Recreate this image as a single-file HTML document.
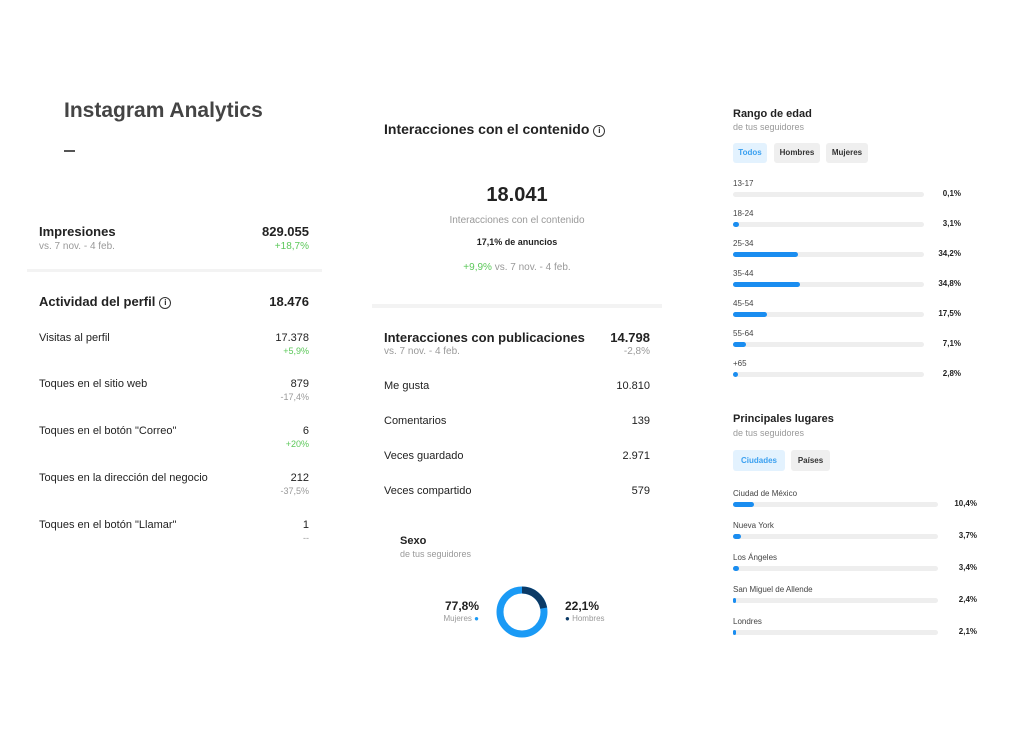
<!DOCTYPE html><html><head><meta charset="utf-8"><style>
body{margin:0;width:1024px;height:754px;background:#fff;position:relative;font-family:"Liberation Sans",sans-serif;color:#222;overflow:hidden}
.a{position:absolute;white-space:nowrap}
.r{position:absolute;white-space:nowrap;text-align:right}
.g{color:#999}.gr{color:#5cc85a}
.t{position:absolute;height:5px;background:#eee;border-radius:3px}
.f{position:absolute;left:0;top:0;height:5px;background:#1a8df0;border-radius:3px}
.p{position:absolute;font-size:8px;font-weight:bold;background:#efefef;border-radius:3px;text-align:center;color:#333}
.i{display:inline-block;width:10px;height:10px;border:1.3px solid #333;border-radius:50%;font-size:8px;line-height:10px;text-align:center;font-weight:bold;vertical-align:1px;margin-left:4px}
</style></head><body>
<div class="a" style="left:64px;top:99px;font-size:21px;font-weight:bold;color:#444">Instagram Analytics</div>
<div class="a" style="left:64px;top:150px;width:11px;height:1.5px;background:#555"></div>

<div class="a" style="left:39px;top:224px;font-size:13px;font-weight:bold">Impresiones</div>
<div class="a g" style="left:39px;top:241px;font-size:10px">vs. 7 nov. - 4 feb.</div>
<div class="r" style="right:715px;top:224px;font-size:13px;font-weight:bold">829.055</div>
<div class="r gr" style="right:715px;top:241px;font-size:10px">+18,7%</div>
<div class="a" style="left:27px;top:269px;width:295px;height:3px;background:#f3f3f3"></div>
<div class="a" style="left:39px;top:294px;font-size:13px;font-weight:bold">Actividad del perfil<span class="i">i</span></div>
<div class="r" style="right:715px;top:294px;font-size:13px;font-weight:bold">18.476</div>

<div class="a" style="left:39px;top:332px;font-size:11px">Visitas al perfil</div>
<div class="r" style="right:715px;top:332px;font-size:11px">17.378</div>
<div class="r gr" style="right:715px;top:346px;font-size:9px">+5,9%</div>
<div class="a" style="left:39px;top:378px;font-size:11px">Toques en el sitio web</div>
<div class="r" style="right:715px;top:378px;font-size:11px">879</div>
<div class="r g" style="right:715px;top:392px;font-size:9px">-17,4%</div>
<div class="a" style="left:39px;top:425px;font-size:11px">Toques en el botón "Correo"</div>
<div class="r" style="right:715px;top:425px;font-size:11px">6</div>
<div class="r gr" style="right:715px;top:439px;font-size:9px">+20%</div>
<div class="a" style="left:39px;top:472px;font-size:11px">Toques en la dirección del negocio</div>
<div class="r" style="right:715px;top:472px;font-size:11px">212</div>
<div class="r g" style="right:715px;top:486px;font-size:9px">-37,5%</div>
<div class="a" style="left:39px;top:519px;font-size:11px">Toques en el botón "Llamar"</div>
<div class="r" style="right:715px;top:519px;font-size:11px">1</div>
<div class="r g" style="right:715px;top:533px;font-size:9px">--</div>

<div class="a" style="left:384px;top:121px;font-size:14px;font-weight:bold">Interacciones con el contenido<span class="i">i</span></div>
<div class="a" style="left:372px;width:290px;text-align:center;top:184px;font-size:20px;font-weight:bold">18.041</div>
<div class="a g" style="left:372px;width:290px;text-align:center;top:215px;font-size:10px">Interacciones con el contenido</div>
<div class="a" style="left:372px;width:290px;text-align:center;top:237px;font-size:9px;font-weight:bold">17,1% de anuncios</div>
<div class="a g" style="left:372px;width:290px;text-align:center;top:262px;font-size:10px"><span class="gr">+9,9%</span> vs. 7 nov. - 4 feb.</div>
<div class="a" style="left:372px;top:304px;width:290px;height:4px;background:#f3f3f3"></div>
<div class="a" style="left:384px;top:330px;font-size:13px;font-weight:bold">Interacciones con publicaciones</div>
<div class="a g" style="left:384px;top:346px;font-size:10px">vs. 7 nov. - 4 feb.</div>
<div class="r" style="right:374px;top:330px;font-size:13px;font-weight:bold">14.798</div>
<div class="r g" style="right:374px;top:346px;font-size:10px">-2,8%</div>
<div class="a" style="left:384px;top:380px;font-size:11px">Me gusta</div><div class="r" style="right:374px;top:380px;font-size:11px">10.810</div>
<div class="a" style="left:384px;top:415px;font-size:11px">Comentarios</div><div class="r" style="right:374px;top:415px;font-size:11px">139</div>
<div class="a" style="left:384px;top:450px;font-size:11px">Veces guardado</div><div class="r" style="right:374px;top:450px;font-size:11px">2.971</div>
<div class="a" style="left:384px;top:485px;font-size:11px">Veces compartido</div><div class="r" style="right:374px;top:485px;font-size:11px">579</div>

<div class="a" style="left:400px;top:535px;font-size:11px;font-weight:bold">Sexo</div>
<div class="a g" style="left:400px;top:549px;font-size:9px">de tus seguidores</div>
<svg class="a" style="left:490px;top:580px" width="64" height="64"><circle cx="32" cy="32" r="22" fill="none" stroke="#1a9af5" stroke-width="7"/><circle cx="32" cy="32" r="22" fill="none" stroke="#0b3a66" stroke-width="7" stroke-dasharray="30.6 200" transform="rotate(-90 32 32)"/></svg>
<div class="r" style="right:545px;top:599px;font-size:12px;font-weight:bold">77,8%</div>
<div class="r g" style="right:545px;top:614px;font-size:8px">Mujeres <span style="color:#1a9af5">●</span></div>
<div class="a" style="left:565px;top:599px;font-size:12px;font-weight:bold">22,1%</div>
<div class="a g" style="left:565px;top:614px;font-size:8px"><span style="color:#0b3a66">●</span> Hombres</div>

<div class="a" style="left:733px;top:108px;font-size:11px;font-weight:bold">Rango de edad</div>
<div class="a g" style="left:733px;top:122px;font-size:9px">de tus seguidores</div>
<div class="p" style="left:733px;top:143px;width:34px;height:20px;line-height:20px;background:#e3f2fe;color:#3aa0f0">Todos</div>
<div class="p" style="left:774px;top:143px;width:46px;height:20px;line-height:20px">Hombres</div>
<div class="p" style="left:826px;top:143px;width:42px;height:20px;line-height:20px">Mujeres</div>

<div class="a" style="left:733px;top:179px;font-size:8px;color:#444">13-17</div><div class="t" style="left:733px;top:192px;width:191px"><div class="f" style="width:0"></div></div><div class="r" style="right:63px;top:189px;font-size:8px;font-weight:bold">0,1%</div>
<div class="a" style="left:733px;top:209px;font-size:8px;color:#444">18-24</div><div class="t" style="left:733px;top:222px;width:191px"><div class="f" style="width:6px"></div></div><div class="r" style="right:63px;top:219px;font-size:8px;font-weight:bold">3,1%</div>
<div class="a" style="left:733px;top:239px;font-size:8px;color:#444">25-34</div><div class="t" style="left:733px;top:252px;width:191px"><div class="f" style="width:65px"></div></div><div class="r" style="right:63px;top:249px;font-size:8px;font-weight:bold">34,2%</div>
<div class="a" style="left:733px;top:269px;font-size:8px;color:#444">35-44</div><div class="t" style="left:733px;top:282px;width:191px"><div class="f" style="width:67px"></div></div><div class="r" style="right:63px;top:279px;font-size:8px;font-weight:bold">34,8%</div>
<div class="a" style="left:733px;top:299px;font-size:8px;color:#444">45-54</div><div class="t" style="left:733px;top:312px;width:191px"><div class="f" style="width:34px"></div></div><div class="r" style="right:63px;top:309px;font-size:8px;font-weight:bold">17,5%</div>
<div class="a" style="left:733px;top:329px;font-size:8px;color:#444">55-64</div><div class="t" style="left:733px;top:342px;width:191px"><div class="f" style="width:13px"></div></div><div class="r" style="right:63px;top:339px;font-size:8px;font-weight:bold">7,1%</div>
<div class="a" style="left:733px;top:359px;font-size:8px;color:#444">+65</div><div class="t" style="left:733px;top:372px;width:191px"><div class="f" style="width:5px"></div></div><div class="r" style="right:63px;top:369px;font-size:8px;font-weight:bold">2,8%</div>

<div class="a" style="left:733px;top:413px;font-size:11px;font-weight:bold">Principales lugares</div>
<div class="a g" style="left:733px;top:428px;font-size:9px">de tus seguidores</div>
<div class="p" style="left:733px;top:450px;width:52px;height:21px;line-height:21px;background:#e3f2fe;color:#3aa0f0">Ciudades</div>
<div class="p" style="left:791px;top:450px;width:39px;height:21px;line-height:21px">Países</div>

<div class="a" style="left:733px;top:489px;font-size:8px;color:#444">Ciudad de México</div><div class="t" style="left:733px;top:502px;width:205px"><div class="f" style="width:21px"></div></div><div class="r" style="right:47px;top:499px;font-size:8px;font-weight:bold">10,4%</div>
<div class="a" style="left:733px;top:521px;font-size:8px;color:#444">Nueva York</div><div class="t" style="left:733px;top:534px;width:205px"><div class="f" style="width:8px"></div></div><div class="r" style="right:47px;top:531px;font-size:8px;font-weight:bold">3,7%</div>
<div class="a" style="left:733px;top:553px;font-size:8px;color:#444">Los Ángeles</div><div class="t" style="left:733px;top:566px;width:205px"><div class="f" style="width:6px"></div></div><div class="r" style="right:47px;top:563px;font-size:8px;font-weight:bold">3,4%</div>
<div class="a" style="left:733px;top:585px;font-size:8px;color:#444">San Miguel de Allende</div><div class="t" style="left:733px;top:598px;width:205px"><div class="f" style="width:3px"></div></div><div class="r" style="right:47px;top:595px;font-size:8px;font-weight:bold">2,4%</div>
<div class="a" style="left:733px;top:617px;font-size:8px;color:#444">Londres</div><div class="t" style="left:733px;top:630px;width:205px"><div class="f" style="width:3px"></div></div><div class="r" style="right:47px;top:627px;font-size:8px;font-weight:bold">2,1%</div>
</body></html>
